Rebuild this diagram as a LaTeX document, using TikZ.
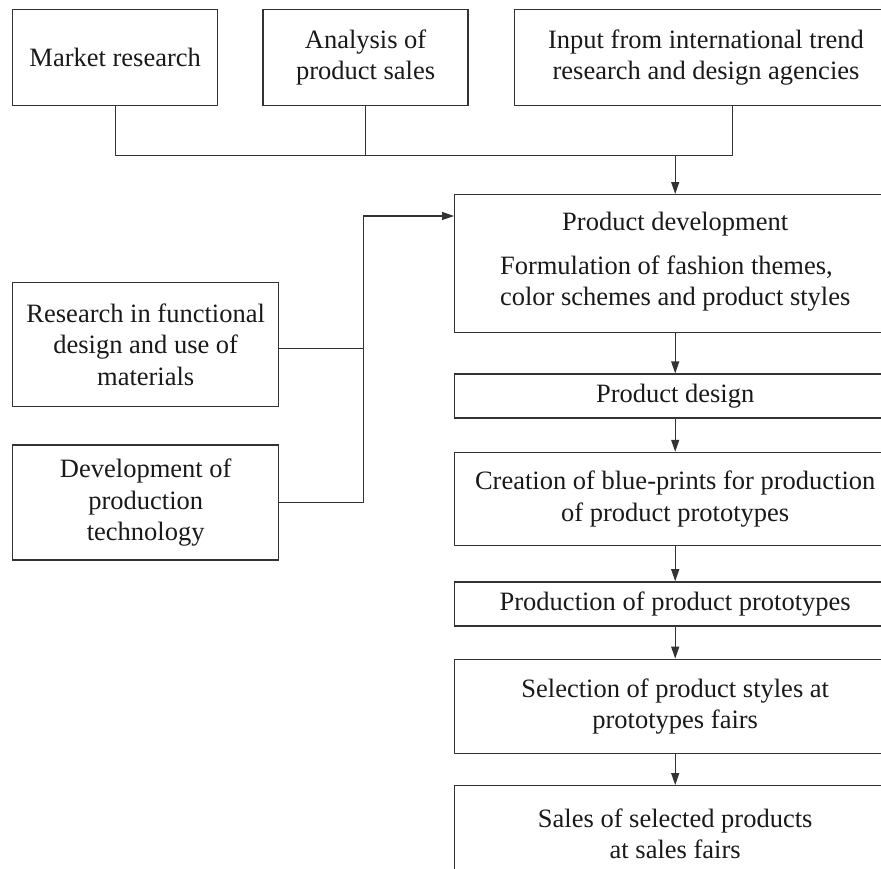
\documentclass[tikz,border=0pt]{standalone}
\usepackage{fontspec}
\setmainfont{Liberation Serif}
\usepackage{tikz}
\usetikzlibrary{positioning,arrows.meta,calc}
\tikzset{
  box/.style={draw=black!80, line width=0.7pt, align=center, inner sep=0pt, text=black!90, font=\fontsize{13.25}{15.75}\selectfont},
  topbox/.style={box, minimum width=102.5pt, minimum height=48pt},
  stage/.style={box, minimum width=220.5pt},
  link/.style={draw=black!80, line width=0.6pt},
  edge/.style={link, -{Triangle[length=6pt,width=4pt]}},
}
\begin{document}
\begin{tikzpicture}[x=0.5pt, y=0.5pt, node distance=10pt]
  \useasboundingbox (0,0) rectangle (881,-868);
  \clip (0,0) rectangle (881,-868);
  \node[topbox, anchor=north west] (mr) at (12,-9) {Market research};
  \node[topbox, right=22pt of mr] (sales) {Analysis of\\product sales};
  \node[topbox, minimum width=191.5pt, right=22.5pt of sales] (trend) {Input from international trend\\research and design agencies};
  \node[stage, minimum height=69pt, anchor=north west] (pdev) at (454,-194) {Product development\\[6pt]\begin{tabular}[t]{@{}l@{}}Formulation of fashion themes,\\color schemes and product styles\end{tabular}};
  \node[stage, minimum height=22pt, below=20pt of pdev] (pdes) {Product design};
  \node[stage, minimum height=46.5pt, below=16.5pt of pdes] (blue) {Creation of blue-prints for production\\of product prototypes};
  \node[stage, minimum height=22pt, below=17.5pt of blue] (proto) {Production of product prototypes};
  \node[stage, minimum height=47pt, below=16pt of proto] (fair) {Selection of product styles at\\prototypes fairs};
  \node[stage, minimum height=48pt, below=15.5pt of fair] (sell) {Sales of selected products\\at sales fairs};
  \node[box, minimum width=133pt, minimum height=62pt, anchor=north west] (func) at (12,-282) {Research in functional\\design and use of\\materials};
  \node[box, minimum width=133pt, minimum height=57.5pt, below=18.5pt of func] (tech) {Development of\\production\\technology};
  \coordinate[below=24.5pt of mr.south] (bus);
  \coordinate (trendx) at ([xshift=13.25pt]trend.south);
  \draw[link] (mr.south) -- (bus) -| (trendx);
  \draw[link] (sales.south) -- (sales.south |- bus);
  \draw[edge] (bus -| pdev.north) -- (pdev.north);
  \coordinate (join) at ([xshift=42pt,yshift=-2pt]func.east);
  \coordinate (entry) at ([yshift=-11pt]pdev.north west);
  \draw[link] ([yshift=-2pt]func.east) -- (join);
  \draw[edge] (tech.east) -| (join |- entry) -- (entry);
  \foreach \a/\b in {pdev/pdes, pdes/blue, blue/proto, proto/fair, fair/sell}
    \draw[edge] (\a) -- (\b);
\end{tikzpicture}
\end{document}
